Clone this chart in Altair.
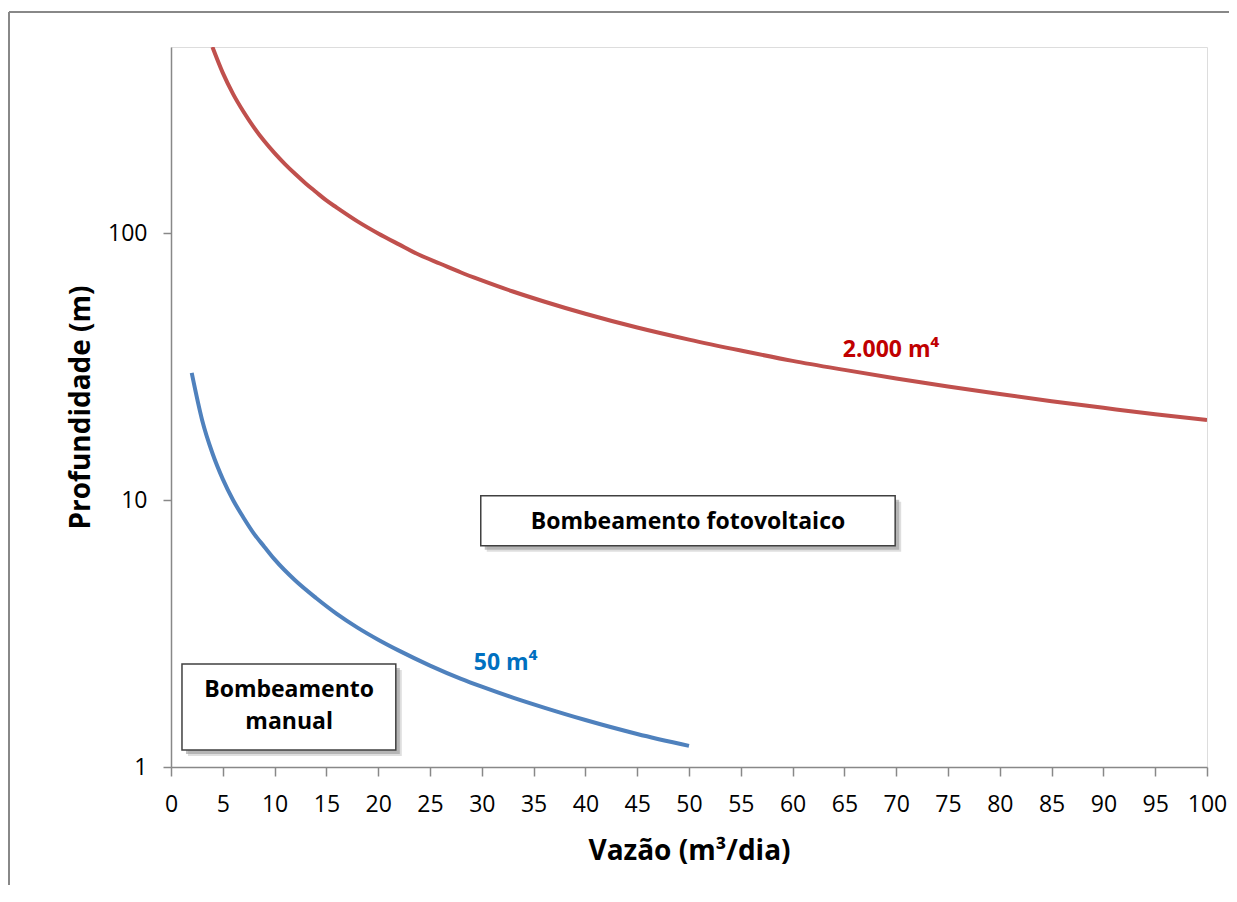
import altair as alt
import pandas as pd

# Curve values
red_x = [4, 5, 6, 7, 8, 9, 10, 11, 12, 13, 14, 15, 16, 18, 20, 22, 24, 26, 28, 30,
         33, 36, 40, 45, 50, 55, 60, 65, 70, 75, 80, 85, 90, 95, 100]
red_y = [500, 400, 333, 286, 250, 222, 200, 182, 167, 154, 143, 133, 125, 111, 100,
         91, 83, 77, 71.4, 66.7, 60.6, 55.6, 50, 44.4, 40, 36.4, 33.3, 30.8, 28.6, 26.7,
         25, 23.5, 22.2, 21, 20]

blue_x = [2, 3, 4, 5, 6, 7, 8, 9, 10, 12, 14, 16, 18, 20, 22, 25, 28, 30, 33, 36, 40, 45, 50]
blue_y = [30, 20, 15, 12, 10, 8.6, 7.5, 6.7, 6, 5, 4.3, 3.75, 3.33, 3.0, 2.73, 2.4,
          2.14, 2.0, 1.82, 1.67, 1.5, 1.33, 1.2]

x_ticks = list(range(0, 101, 5))
y_ticks = [1, 10, 100]

FONT = "Open Sans"

df = pd.concat([
    pd.DataFrame({"x": red_x, "y": red_y, "s": "2.000 m⁴"}),
    pd.DataFrame({"x": blue_x, "y": blue_y, "s": "50 m⁴"}),
])

xs = alt.Scale(domain=[0, 100], nice=False, zero=False)
ys = alt.Scale(type="log", domain=[1, 500], nice=False)

xenc = alt.X("x:Q", scale=xs, axis=alt.Axis(
    title="Vazão (m³/dia)", values=x_ticks, grid=False, domainColor="#888888",
    tickColor="#888888", tickSize=9, labelFontSize=23, labelPadding=17,
    labelColor="#000000", labelFont=FONT, titleFont=FONT, titleFontSize=28,
    titleFontWeight="bold", titleColor="#000000", titlePadding=21,
    labelFlush=False, domainWidth=1.5, tickWidth=1.5))
yenc = alt.Y("y:Q", scale=ys, axis=alt.Axis(
    title="Profundidade (m)", values=y_ticks, format="d", grid=False,
    domainColor="#888888", tickColor="#888888", tickSize=8, labelFontSize=23,
    labelPadding=16, labelColor="#000000", labelFont=FONT, titleFont=FONT,
    titleFontSize=28, titleFontWeight="bold", titleColor="#000000",
    titlePadding=12, domainWidth=1.5, tickWidth=1.5))

lines = alt.Chart(df).mark_line(strokeWidth=4, clip=True, interpolate="monotone").encode(
    x=xenc, y=yenc,
    color=alt.Color("s:N", scale=alt.Scale(domain=["2.000 m⁴", "50 m⁴"],
                                           range=["#C0504D", "#4F81BD"]), legend=None),
)

labels_df = pd.DataFrame({
    "x": [69.5, 32.3], "y": [34.5, 2.31], "t": ["2.000 m⁴", "50 m⁴"],
    "c": ["#C00000", "#0070C0"],
})
labels = alt.Chart(labels_df).mark_text(font=FONT, fontSize=23, fontWeight="bold",
                                        baseline="alphabetic").encode(
    x=alt.X("x:Q", scale=xs), y=alt.Y("y:Q", scale=ys), text="t:N",
    color=alt.Color("c:N", scale=None))

box_x = [29.9, 1.06]
box_x2 = [69.9, 21.7]
box_y = [10.4, 2.435]
box_y2 = [6.75, 1.158]
boxes_df = pd.DataFrame({"x": box_x, "x2": box_x2, "y": box_y, "y2": box_y2})

def shadow_layer(dx_px, fill, op):
    fx = dx_px / 10.36
    fy = 10 ** (-dx_px / 266.5)
    sdf = pd.DataFrame({"x": [v + fx for v in box_x], "x2": [v + fx for v in box_x2],
                        "y": [v * fy for v in box_y], "y2": [v * fy for v in box_y2]})
    return alt.Chart(sdf).mark_rect(fill=fill, opacity=op).encode(
        x=alt.X("x:Q", scale=xs), x2="x2:Q", y=alt.Y("y:Q", scale=ys), y2="y2:Q")

shadow1 = shadow_layer(6, "#c8c8c8", 0.6)
shadow2 = shadow_layer(4, "#9a9a9a", 0.6)
boxes = alt.Chart(boxes_df).mark_rect(fill="white", stroke="#404040",
                                      strokeWidth=1.5).encode(
    x=alt.X("x:Q", scale=xs), x2="x2:Q", y=alt.Y("y:Q", scale=ys), y2="y2:Q")

box_text_df = pd.DataFrame({
    "x": [49.9, 11.4, 11.4], "y": [8.3, 1.945, 1.476],
    "t": ["Bombeamento fotovoltaico", "Bombeamento", "manual"],
})
box_text = alt.Chart(box_text_df).mark_text(font=FONT, fontSize=23, fontWeight="bold",
                                            color="#000000", baseline="middle").encode(
    x=alt.X("x:Q", scale=xs), y=alt.Y("y:Q", scale=ys), text="t:N")

border_v = alt.Chart(pd.DataFrame({"a": [0]})).mark_rule(color="#888888", strokeWidth=2).encode(
    x=alt.value(-162), y=alt.value(-35), y2=alt.value(900))
border_h = alt.Chart(pd.DataFrame({"a": [0]})).mark_rule(color="#888888", strokeWidth=2).encode(
    x=alt.value(-162), x2=alt.value(1100), y=alt.value(-35))

chart = alt.layer(border_v, border_h, lines, shadow1, shadow2, boxes, box_text, labels).properties(
    width=1036, height=720,
    autosize=alt.AutoSizeParams(type="none"),
    padding={"left": 163, "top": 39, "right": 22, "bottom": 118},
).configure_view(stroke=None).configure(background="white")

chart.save("out.html", embed_options={"renderer": "svg", "actions": False})
